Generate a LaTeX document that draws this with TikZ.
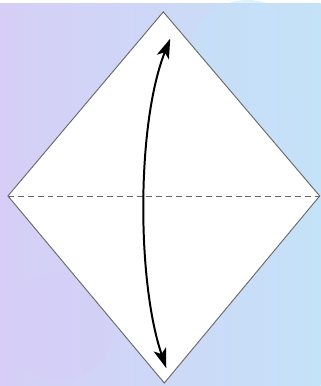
\documentclass[tikz,border=0pt]{standalone}
\usepackage{tikz}
\usetikzlibrary{arrows.meta}
\definecolor{bglila}{RGB}{214, 206, 246}
\definecolor{bgazul}{RGB}{196, 226, 248}
\definecolor{bordegris}{RGB}{100, 100, 100}
\tikzset{
  papel/.style={fill=white, draw=bordegris, line width=0.9pt},
  pliegue/.style={draw=bordegris, dashed, dash pattern=on 6pt off 4pt, line width=0.8pt},
  flecha/.style={line width=2pt, {Stealth[length=20pt,width=13pt,inset=5pt]}-{Stealth[length=20pt,width=13pt,inset=5pt]}}
}
\begin{document}
\begin{tikzpicture}[x=1pt, y=1pt]
  % Fondo
  \shade[left color=bglila, right color=bgazul] (0,0) rectangle (324,386);
  \fill[bgazul, opacity=0.5] (250,330) circle (60pt);
  \fill[bglila, opacity=0.5] (60,60) circle (55pt);
  \useasboundingbox (0,0) rectangle (324,386);
  % Cuadrado de papel
  \coordinate (arriba) at (165,378);
  \coordinate (abajo) at (166,3);
  \coordinate (izq) at (8,192);
  \coordinate (der) at (323,192);
  \path[papel] (arriba) -- (der) -- (abajo) -- (izq) -- cycle;
  \draw[pliegue] (izq) -- (der);
  % Doblar arriba hacia abajo
  \coordinate (punta1) at (172,351);
  \coordinate (punta2) at (168,18);
  \draw[flecha] (punta1) .. controls (138,266) and (138,106) .. (punta2);
\end{tikzpicture}
\end{document}
